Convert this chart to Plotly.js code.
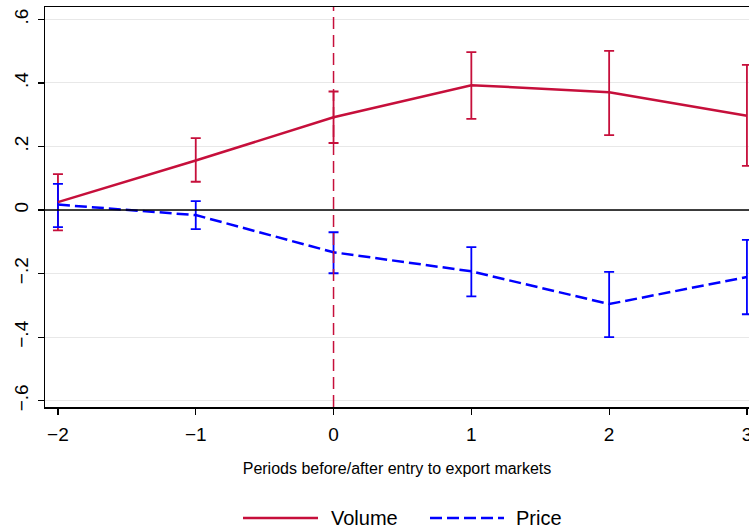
<!DOCTYPE html>
<html>
<head>
<meta charset="utf-8">
<script src="https://cdn.plot.ly/plotly-3.0.1.min.js"></script>
<style>html,body{margin:0;padding:0;background:#fff;overflow:hidden;}#chart{width:749px;height:531px;}</style>
</head>
<body>
<div id="chart"></div>
<script>
var periods = [-2, -1, 0, 1, 2, 3];
var volume = [0.025, 0.156, 0.292, 0.393, 0.371, 0.297];
var volumeLo = [-0.064, 0.089, 0.211, 0.287, 0.236, 0.139];
var volumeHi = [0.113, 0.226, 0.373, 0.497, 0.501, 0.457];
var price = [0.017, -0.016, -0.133, -0.193, -0.296, -0.211];
var priceLo = [-0.054, -0.060, -0.199, -0.272, -0.400, -0.328];
var priceHi = [0.082, 0.028, -0.070, -0.117, -0.195, -0.094];
var xTickVals = [-2, -1, 0, 1, 2, 3];
var xTickText = ['\u22122', '\u22121', '0', '1', '2', '3'];
var yTickVals = [0.6, 0.4, 0.2, 0, -0.2, -0.4, -0.6];
var yTickText = ['.6', '.4', '.2', '0', '\u2212.2', '\u2212.4', '\u2212.6'];
var seriesNames = ['Volume', 'Price'];

var red = '#c60f3b';
var blue = '#0000ff';
var FONT = 'Liberation Sans, Arial, sans-serif';

function diff(a, b) { return a.map(function (v, i) { return v - b[i]; }); }

var traces = [
  {x: periods, y: volume, mode: 'markers', showlegend: false, hoverinfo: 'skip',
   marker: {size: 1, color: 'rgba(0,0,0,0)'},
   error_y: {type: 'data', symmetric: false, array: diff(volumeHi, volume), arrayminus: diff(volume, volumeLo),
             color: red, thickness: 1.8, width: 5}},
  {x: periods, y: price, mode: 'markers', showlegend: false, hoverinfo: 'skip',
   marker: {size: 1, color: 'rgba(0,0,0,0)'},
   error_y: {type: 'data', symmetric: false, array: diff(priceHi, price), arrayminus: diff(price, priceLo),
             color: blue, thickness: 1.8, width: 5}},
  {x: periods, y: volume, mode: 'lines', name: seriesNames[0], showlegend: false, line: {color: red, width: 2.5}},
  {x: periods, y: price, mode: 'lines', name: seriesNames[1], showlegend: false, line: {color: blue, width: 2.5, dash: '12px,5px'}}
];

// plot area: 400 px tall (y 7..407), 704 px wide (x 45..749)
var legY = (407 - 518) / 400;
function px(x) { return (x - 45) / 704; }

var layout = {
  width: 749, height: 531,
  margin: {l: 45, r: 0, t: 7, b: 124},
  paper_bgcolor: '#fff', plot_bgcolor: '#fff',
  font: {family: FONT, color: '#000'},
  showlegend: false,
  xaxis: {range: [-2.094, 3.015], tickvals: xTickVals, ticktext: xTickText, automargin: false,
          showgrid: false, zeroline: false, showline: true, mirror: true,
          linecolor: '#000', linewidth: 1.5, ticks: 'outside', ticklen: 6, tickwidth: 1.2, tickcolor: '#000',
          tickfont: {size: 19}, ticklabeloverflow: 'allow', ticklabelstandoff: 4,
          title: {text: 'Periods before/after entry to export markets', font: {size: 16}, standoff: 18}},
  yaxis: {range: [-0.62, 0.639], tickvals: yTickVals, ticktext: yTickText, tickangle: -90, automargin: false,
          showgrid: true, gridcolor: '#e8e8e8', gridwidth: 1, zeroline: false,
          showline: true, linecolor: '#000', linewidth: 1.5,
          ticks: 'outside', ticklen: 6, tickwidth: 1.2, tickcolor: '#000',
          tickfont: {size: 19}, ticklabeloverflow: 'allow', ticklabelstandoff: 2},
  shapes: [
    {type: 'line', xref: 'paper', yref: 'y', x0: 0, x1: 1, y0: 0, y1: 0,
     line: {color: '#000', width: 1.5}},
    {type: 'line', xref: 'x', yref: 'paper', x0: 0, x1: 0, y0: 0, y1: 1,
     line: {color: red, width: 1.5, dash: '12px,6px'}},
    {type: 'line', xref: 'paper', yref: 'paper', x0: px(243), x1: px(318), y0: legY, y1: legY,
     line: {color: red, width: 2.5}},
    {type: 'line', xref: 'paper', yref: 'paper', x0: px(430), x1: px(504), y0: legY, y1: legY,
     line: {color: blue, width: 2.5, dash: '12px,5px'}}
  ],
  annotations: [
    {xref: 'paper', yref: 'paper', x: px(329), y: legY, xanchor: 'left', yanchor: 'middle',
     text: seriesNames[0], showarrow: false, font: {size: 20, family: FONT}},
    {xref: 'paper', yref: 'paper', x: px(514), y: legY, xanchor: 'left', yanchor: 'middle',
     text: seriesNames[1], showarrow: false, font: {size: 20, family: FONT}}
  ]
};

Plotly.newPlot('chart', traces, layout, {displayModeBar: false, staticPlot: true});
</script>
</body>
</html>
